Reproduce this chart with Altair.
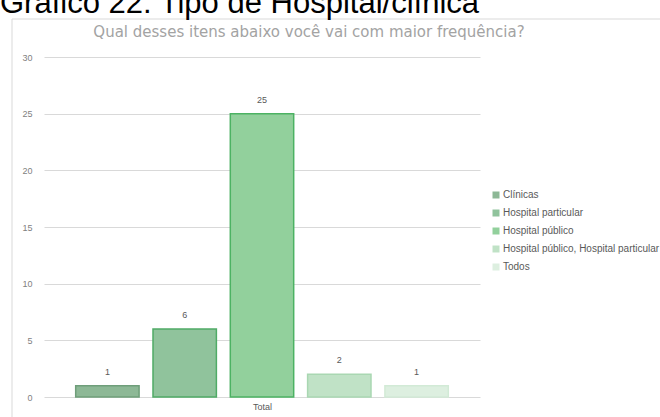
import altair as alt
import pandas as pd

# Survey answers: where respondents go most often
categories = ["Clínicas", "Hospital particular", "Hospital público",
              "Hospital público, Hospital particular", "Todos"]
counts = [1, 6, 25, 2, 1]
fills = ["#8db896", "#90c39c", "#92d09c", "#c0e2c6", "#ddefe0"]
strokes = ["#6f9e7a", "#4fab66", "#4cb263", "#a9d7b2", "#d2ead6"]
y_ticks = [0, 5, 10, 15, 20, 25, 30]

header_text = "Gráfico 22: Tipo de Hospital/clínica"
chart_title = "Qual  desses itens abaixo você vai com maior frequência?"

df = pd.DataFrame({"resposta": categories, "n": counts})

W, H = 436, 340

x_enc = alt.X("resposta:N", sort=categories,
              scale=alt.Scale(paddingInner=0.18, paddingOuter=0.41),
              axis=alt.Axis(labels=False, ticks=False, domain=False,
                            title="Total", titleFontSize=9, titleColor="#595959",
                            titleFontWeight="normal", titlePadding=5,
                            titleFont="Liberation Sans"))
y_enc = alt.Y("n:Q", scale=alt.Scale(domain=[0, 30], nice=False),
              axis=alt.Axis(values=y_ticks, title=None, ticks=False, domain=False,
                            labelFontSize=9, labelColor="#7f7f7f", labelPadding=12,
                            labelFont="Liberation Sans",
                            gridColor="#d9d9d9", gridWidth=1))

bars = alt.Chart(df).mark_bar(strokeWidth=1.5).encode(
    x=x_enc,
    y=y_enc,
    fill=alt.Fill("resposta:N", sort=categories,
                  scale=alt.Scale(domain=categories, range=fills),
                  legend=alt.Legend(title=None, orient="none", legendX=447, legendY=133,
                                    symbolType="square", symbolSize=49,
                                    symbolStrokeWidth=0, labelFontSize=10,
                                    labelColor="#595959", labelFont="Liberation Sans",
                                    labelLimit=400, rowPadding=8, labelOffset=2)),
    stroke=alt.Stroke("resposta:N", sort=categories,
                      scale=alt.Scale(domain=categories, range=strokes), legend=None),
)

labels = alt.Chart(df).mark_text(dy=-9, fontSize=9, color="#595959",
                                 font="Liberation Sans", baseline="bottom").encode(
    x=alt.X("resposta:N", sort=categories),
    y="n:Q",
    text="n:Q",
)

one = pd.DataFrame({"k": [0]})

frame = alt.Chart(one).mark_rect(fillOpacity=0, stroke="#d9d9d9", strokeWidth=1).encode(
    x=alt.value(-32), x2=alt.value(700), y=alt.value(-38), y2=alt.value(400))

title = alt.Chart(one).mark_text(fontSize=15, color="#a3a3a3", font="DejaVu Sans",
                                 align="center", baseline="middle").encode(
    x=alt.value(265), y=alt.value(-25), text=alt.value(chart_title))

header = alt.Chart(one).mark_text(fontSize=31, color="#000000", font="Liberation Sans",
                                  align="left", baseline="alphabetic").encode(
    x=alt.value(-44), y=alt.value(-44), text=alt.value(header_text))

chart = alt.layer(frame, bars, labels, title, header).properties(
    width=W, height=H,
    padding={"left": 44, "top": 57, "right": 180, "bottom": 20},
    autosize=alt.AutoSizeParams(type="none"),
    background="white",
).configure_view(stroke=None)

chart.save("out.html", embed_options={"renderer": "svg", "actions": False})
